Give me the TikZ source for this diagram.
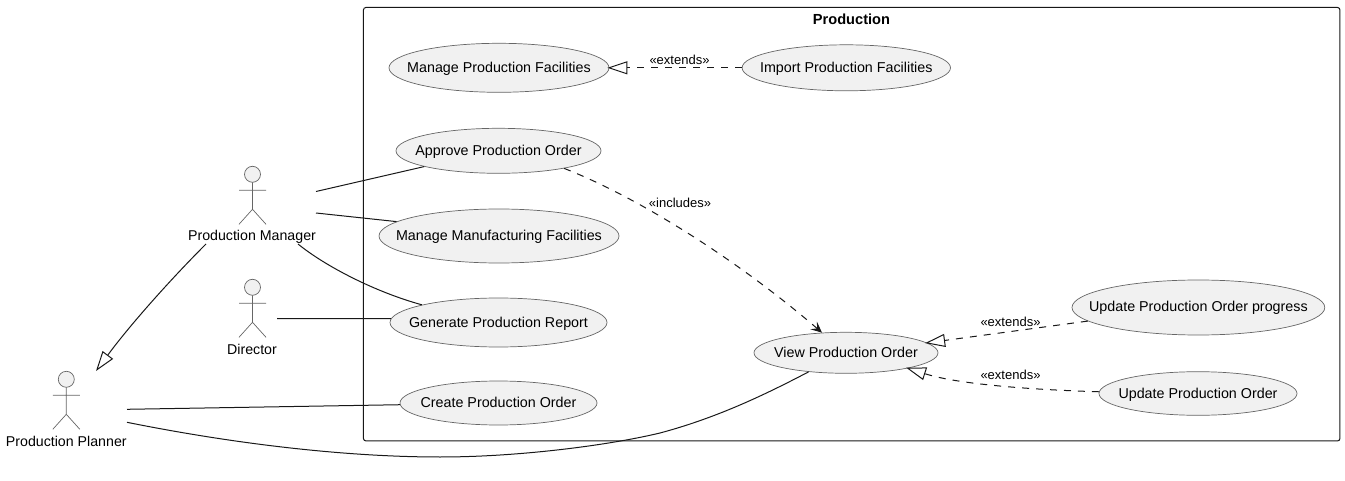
\documentclass[tikz,border=0pt]{standalone}
\usepackage{fontspec}
\setmainfont{Liberation Sans}
\usetikzlibrary{shapes.geometric, positioning, arrows.meta}
\definecolor{umlfill}{HTML}{F1F1F1}
\definecolor{umlline}{HTML}{181818}
\definecolor{umlthin}{HTML}{666666}
\tikzset{
  usecase/.style={ellipse, draw=umlthin, line width=.7pt, fill=umlfill, inner xsep=-40pt, inner ysep=0pt, text height=12pt, text depth=3pt, font=\fontsize{14.3}{16}\selectfont},
  actorname/.style={inner sep=0pt, font=\fontsize{14.2}{16}\selectfont},
  stereo/.style={inner sep=0pt, font=\fontsize{13}{14}\selectfont},
  assoc/.style={draw=umlline, line width=1pt},
  ext/.style={assoc, shorten >=-2pt, dash pattern=on 7pt off 7pt, -{Triangle[open, length=20pt, width=13pt]}},
  actorfig/.pic={
    \draw[draw=umlthin, line width=.7pt, fill=umlfill] (0,0) circle (8);
    \draw[draw=umlthin, line width=.7pt] (0,8) -- (0,35) (-13.5,16) -- (13.5,16)
      (-13.5,50) -- (0,35) -- (13.5,50);
  }
}
\begin{document}
\begin{tikzpicture}[x=1pt, y=-1pt, on grid, line join=round]
  \useasboundingbox (0,0) rectangle (1345,481);
  \node[draw=umlline, line width=1pt, rounded corners=2.5pt, minimum width=976.5pt, minimum height=433.5pt, inner sep=0pt] (production) at (851.7,224.2) {};
  \node[font=\bfseries\fontsize{14.6}{16}\selectfont, inner sep=0pt] (productiontitle) at (851.5,19) {Production};

  % use cases
  \node[usecase, minimum width=220pt, minimum height=49pt] (managefac) at (499,67.8) {Manage Production Facilities};
  \node[usecase, minimum width=208.4pt, minimum height=46pt] (importfac) [right=347.3pt of managefac] {Import Production Facilities};
  \node[usecase, minimum width=205pt, minimum height=45pt] (approve) at (498.5,150.8) {Approve Production Order};
  \node[usecase, minimum width=240pt, minimum height=54pt] (managemfg) at (499,236) {Manage Manufacturing Facilities};
  \node[usecase, minimum width=217pt, minimum height=49pt] (generate) at (498.5,322.5) {Generate Production Report};
  \node[usecase, minimum width=197pt, minimum height=44pt] (create) at (498.5,403) {Create Production Order};
  \node[usecase, minimum width=184pt, minimum height=41pt] (view) at (846,352.8) {View Production Order};
  \node[usecase, minimum width=252.8pt, minimum height=55pt] (progress) at (1198.4,307.5) {Update Production Order progress};
  \node[usecase, minimum width=198pt, minimum height=43.6pt] (update) at (1198,393.5) {Update Production Order};

  % actors
  \pic at (252.5,174.3) {actorfig};
  \pic at (252.5,287.3) {actorfig};
  \pic at (66.3,379.3) {actorfig};
  \node[actorname] (manager) at (252,237) {Production Manager};
  \node[actorname] (director) at (252,349) {Director};
  \node[actorname] (planner) at (66.3,441) {Production Planner};

  \coordinate (managerA) at (316,191.5);
  \coordinate (managerB) at (316,213);
  \coordinate (managerC) at (298,244);
  \coordinate (managerD) at (206,244);
  \coordinate (directorA) at (277,318.5);
  \coordinate (plannerA) at (127,409.3);
  \coordinate (plannerB) at (127,422.3);
  \coordinate (plannerTip) at (96,371);

  \draw[assoc] (managerA) -- (approve.192);
  \draw[assoc] (managerB) -- (managemfg.172.3);
  \draw[assoc] (managerC) .. controls (325,266) and (375,292) .. (generate.167);
  \draw[assoc] (directorA) -- (generate.178.7);
  \draw[assoc] (plannerA) -- (create.181);
  \draw[assoc] (plannerB) .. controls (240,445) and (350,457) .. (440,457)
    .. controls (520,457) and (610,445) .. (660,433)
    .. controls (720,417) and (770,392) .. (view.207.9);
  \draw[assoc, -{Triangle[open, length=20pt, width=13pt]}] (managerD) .. controls (170,280) and (130,325) .. (plannerTip);

  % stereotyped links
  \draw[ext] (importfac.180) -- (managefac.0);
  \draw[ext] (progress.187.4) -- (view.7.3);
  \draw[ext] (update.179) .. controls (1040,390) and (960,385) .. (view.-14.8);
  \draw[assoc, dash pattern=on 7pt off 7pt, -{Stealth[length=11pt, width=10pt, inset=4.5pt]}] (approve.-15.4) .. controls (640,198) and (740,262) .. (view.140);
  \node[stereo] (extendsA) at (679.5,60) {«extends»};
  \node[stereo] (includesA) at (680,203) {«includes»};
  \node[stereo] (extendsB) at (1010.5,322) {«extends»};
  \node[stereo] (extendsC) at (1010.5,375) {«extends»};
\end{tikzpicture}
\end{document}
